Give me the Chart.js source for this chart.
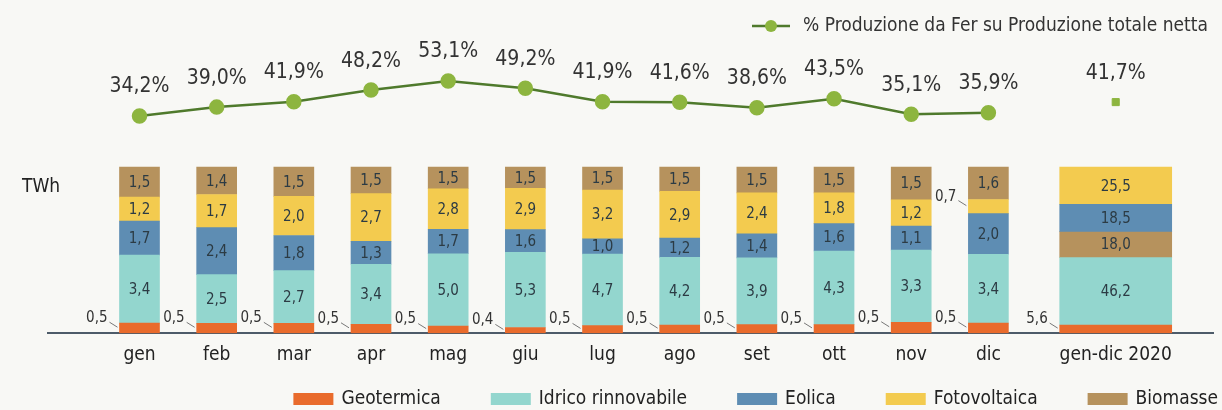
<!DOCTYPE html>
<html>
<head>
<meta charset="utf-8">
<script src="https://cdn.jsdelivr.net/npm/chart.js@4.4.1/dist/chart.umd.min.js"></script>
<style>
html, body { margin: 0; padding: 0; background: #f8f8f5; }
#wrap { position: relative; width: 1222px; height: 410px; }
</style>
</head>
<body>
<div id="wrap"><canvas id="grafico"></canvas></div>
<script>
// dati (TWh) - mesi 2020
const mesi = ["gen", "feb", "mar", "apr", "mag", "giu", "lug", "ago", "set", "ott", "nov", "dic"];
const etichettaAnno = "gen-dic 2020";
const geotermica   = [0.5, 0.5, 0.5, 0.5, 0.5, 0.4, 0.5, 0.5, 0.5, 0.5, 0.5, 0.5];
const idrico       = [3.4, 2.5, 2.7, 3.4, 5.0, 5.3, 4.7, 4.2, 3.9, 4.3, 3.3, 3.4];
const eolica       = [1.7, 2.4, 1.8, 1.3, 1.7, 1.6, 1.0, 1.2, 1.4, 1.6, 1.1, 2.0];
const fotovoltaica = [1.2, 1.7, 2.0, 2.7, 2.8, 2.9, 3.2, 2.9, 2.4, 1.8, 1.2, 0.7];
const biomasse     = [1.5, 1.4, 1.5, 1.5, 1.5, 1.5, 1.5, 1.5, 1.5, 1.5, 1.5, 1.6];
// totale anno: geotermica, idrico, eolica, fotovoltaica, biomasse
const totaleAnno   = [5.6, 46.2, 18.5, 25.5, 18.0];
// % produzione da Fer su produzione totale netta
const quotaFer     = [34.2, 39.0, 41.9, 48.2, 53.1, 49.2, 41.9, 41.6, 38.6, 43.5, 35.1, 35.9];
const quotaFerAnno = 41.7;

const FONT = "'Liberation Sans Narrow', 'DejaVu Sans Condensed', 'Roboto', sans-serif";
const posAnno = 13.65; // la barra annuale sta un po' staccata dai mesi

const serie = [
    { label: "Geotermica",         valori: geotermica,   colore: "#e96b2c" },
    { label: "Idrico rinnovabile", valori: idrico,       colore: "#93d6ce" },
    { label: "Eolica",             valori: eolica,       colore: "#5e8db3" },
    { label: "Fotovoltaica",       valori: fotovoltaica, colore: "#f3cb4f" },
    { label: "Biomasse",           valori: biomasse,     colore: "#b6925d" }
];
const ordineMesi = [0, 1, 2, 3, 4];
const ordineAnno = [0, 1, 4, 2, 3]; // nel totale le biomasse stanno sotto l'eolico

// barre al 100%: ogni pezzo e' [inizio, fine] in percentuale del totale
function intervalli(valori, ordine) {
    const tot = valori.reduce((a, b) => a + b, 0);
    const out = [];
    let acc = 0;
    ordine.forEach(k => {
        const lo = acc;
        acc += valori[k] / tot * 100;
        out[k] = [lo, acc];
    });
    return out;
}

const fmt = v => v.toFixed(1).replace(".", ",");

const datasets = [];
serie.forEach((s, k) => {
    datasets.push({
        type: "bar",
        label: s.label,
        data: mesi.map((m, i) => ({
            x: i + 1,
            y: intervalli(serie.map(z => z.valori[i]), ordineMesi)[k],
            v: s.valori[i]
        })),
        backgroundColor: s.colore,
        barThickness: 40,
        grouped: false,
        yAxisID: "y",
        serie: k
    });
});
serie.forEach((s, k) => {
    datasets.push({
        type: "bar",
        label: s.label + " anno",
        data: [{ x: posAnno, y: intervalli(totaleAnno, ordineAnno)[k], v: totaleAnno[k] }],
        backgroundColor: s.colore,
        barThickness: 112,
        grouped: false,
        yAxisID: "y",
        serie: k
    });
});
datasets.push({
    type: "line",
    label: "% Produzione da Fer su Produzione totale netta",
    data: quotaFer.map((v, i) => ({ x: i + 1, y: v })),
    borderColor: "#4f7a2c",
    borderWidth: 2.5,
    pointBackgroundColor: "#8db53f",
    pointBorderColor: "#8db53f",
    pointRadius: 6.5,
    yAxisID: "y2"
});
datasets.push({
    type: "line",
    label: "quota anno",
    data: [{ x: posAnno, y: quotaFerAnno }],
    showLine: false,
    pointStyle: "rect",
    pointBackgroundColor: "#8db53f",
    pointBorderColor: "#8db53f",
    pointRadius: 5,
    yAxisID: "y2"
});

const etichette = {
    id: "etichette",
    afterDatasetsDraw(chart) {
        const ctx = chart.ctx;
        ctx.save();
        chart.data.datasets.forEach((ds, di) => {
            const meta = chart.getDatasetMeta(di);
            if (ds.type === "bar") {
                meta.data.forEach((bar, i) => {
                    const top = Math.min(bar.y, bar.base);
                    const bot = Math.max(bar.y, bar.base);
                    const cy = (top + bot) / 2;
                    const v = ds.data[i].v;
                    const testo = fmt(v);
                    if (ds.serie !== 0 && v >= 1) {
                        ctx.font = "15px " + FONT;
                        ctx.fillStyle = "#2c3b44";
                        ctx.textAlign = "center";
                        ctx.textBaseline = "middle";
                        ctx.fillText(testo, bar.x, cy + 1);
                    } else {
                        const sx = bar.x - bar.width / 2;
                        ctx.font = "15px " + FONT;
                        ctx.fillStyle = "#333";
                        ctx.textAlign = "right";
                        ctx.textBaseline = "middle";
                        ctx.fillText(testo, sx - 12, cy - 10);
                        ctx.strokeStyle = "#777";
                        ctx.lineWidth = 1;
                        ctx.beginPath();
                        ctx.moveTo(sx - 10, cy - 6);
                        ctx.lineTo(sx - 2, cy - 1);
                        ctx.stroke();
                    }
                });
            } else {
                meta.data.forEach((pt, i) => {
                    ctx.font = "21px " + FONT;
                    ctx.fillStyle = "#333";
                    ctx.textAlign = "center";
                    ctx.textBaseline = "middle";
                    ctx.fillText(fmt(ds.data[i].y) + "%", pt.x, pt.y - 29);
                });
            }
        });
        ctx.restore();
    },
    afterDraw(chart) {
        const ctx = chart.ctx;
        ctx.save();
        ctx.font = "19px " + FONT;
        ctx.fillStyle = "#222";
        ctx.textAlign = "left";
        ctx.textBaseline = "middle";
        ctx.fillText("TWh", 22, 187);
        // legenda della linea in alto a destra
        ctx.strokeStyle = "#4f7a2c";
        ctx.lineWidth = 2.5;
        ctx.beginPath();
        ctx.moveTo(752, 26);
        ctx.lineTo(790, 26);
        ctx.stroke();
        ctx.fillStyle = "#8db53f";
        ctx.beginPath();
        ctx.arc(771, 26, 6, 0, Math.PI * 2);
        ctx.fill();
        ctx.fillStyle = "#333";
        ctx.fillText(chart.data.datasets[10].label, 803, 26);
        // legenda delle barre in basso, allineata a destra
        ctx.font = "19px " + FONT;
        let x = 1218;
        for (let k = serie.length - 1; k >= 0; k--) {
            const ds = chart.data.datasets[k];
            const w = ctx.measureText(ds.label).width;
            x -= w;
            ctx.fillStyle = "#222";
            ctx.fillText(ds.label, x, 399);
            x -= 8 + 40;
            ctx.fillStyle = ds.backgroundColor;
            ctx.fillRect(x, 393, 40, 12);
            x -= 50;
        }
        ctx.restore();
    }
};

const posizioni = mesi.map((m, i) => i + 1).concat([posAnno]);
const nomiX = mesi.concat([etichettaAnno]);

new Chart(document.getElementById("grafico"), {
    data: { datasets: datasets },
    options: {
        responsive: true,
        maintainAspectRatio: false,
        animation: false,
        layout: { padding: { left: 48, right: 0, top: 10, bottom: 34 } },
        plugins: {
            tooltip: { enabled: false },
            legend: { display: false }
        },
        scales: {
            x: {
                type: "linear",
                min: 0.395,
                max: 14.33,
                grid: { display: false, drawTicks: false },
                border: { display: true, color: "#4d5b69", width: 2 },
                afterBuildTicks: axis => { axis.ticks = posizioni.map(v => ({ value: v })); },
                ticks: {
                    autoSkip: false,
                    maxRotation: 0,
                    padding: 10,
                    color: "#222",
                    font: { family: FONT, size: 19 },
                    callback: (v, i) => nomiX[i]
                }
            },
            y: { display: false, min: 0, max: 194.6 },
            y2: { display: false, min: -83, max: 91.4 }
        }
    },
    plugins: [etichette]
});
</script>
</body>
</html>
